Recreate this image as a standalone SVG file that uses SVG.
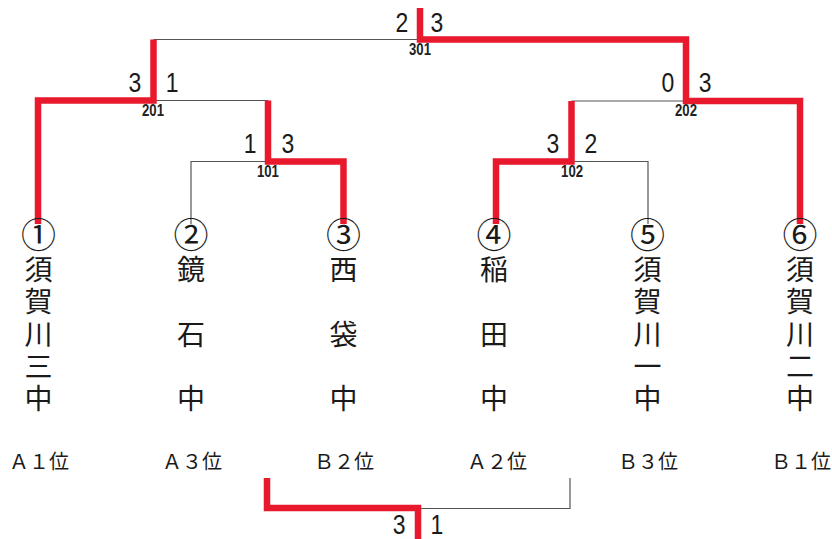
<svg xmlns="http://www.w3.org/2000/svg" width="832" height="539" viewBox="0 0 832 539">
<style>
.win{fill:none;stroke:#e8192c;stroke-width:6.5;stroke-linejoin:miter;stroke-linecap:butt}
.lose{fill:none;stroke:#555;stroke-width:1.2}
.sc{font-family:"Liberation Sans",sans-serif;font-size:28px;fill:#1a1a1a;text-anchor:middle}
.mid{font-family:"Liberation Sans",sans-serif;font-size:16px;font-weight:bold;fill:#222;text-anchor:middle}
.nm{font-family:"Noto Sans CJK JP","Noto Sans CJK SC",sans-serif;font-size:28px;fill:#1a1a1a;text-anchor:middle}
.cn{font-family:"Noto Sans CJK JP","Noto Sans CJK SC",sans-serif;font-size:35px;fill:#1a1a1a;text-anchor:middle}
.rk{font-family:"Noto Sans CJK JP","Noto Sans CJK SC",sans-serif;font-size:20px;fill:#1a1a1a;text-anchor:middle}
</style>
<rect width="832" height="539" fill="#ffffff"/>
<g id="connectors">
  <path class="lose" d="M153.5 39.5 H420"/>
  <path class="lose" d="M153.5 100.5 H268"/>
  <path class="lose" d="M268 161.5 H191 V224"/>
  <path class="lose" d="M686 101 H571.5"/>
  <path class="lose" d="M571.5 161.5 H648 V224"/>
  <path class="lose" d="M418 508.5 H570 V478"/>
  <path class="win" d="M420 8 V39.5 H686 V101 H800 V224"/>
  <path class="win" d="M153.5 39.5 V100.5 H38 V224"/>
  <path class="win" d="M268 100.5 V161.5 H343.5 V224"/>
  <path class="win" d="M571.5 101 V161.5 H496 V224"/>
  <path class="win" d="M267 478 V508 H418 V539"/>
</g>
<g id="match-301" transform="scale(0.82 1)">
  <text class="sc" x="490.2" y="32">2</text>
  <text class="sc" x="532.9" y="32">3</text>
  <text class="mid" x="512.2" y="55">301</text>
</g>
<g id="match-201" transform="scale(0.82 1)">
  <text class="sc" x="164.6" y="92">3</text>
  <text class="sc" x="209.8" y="92">1</text>
  <text class="mid" x="186.6" y="116">201</text>
</g>
<g id="match-202" transform="scale(0.82 1)">
  <text class="sc" x="814.6" y="92">0</text>
  <text class="sc" x="859.8" y="92">3</text>
  <text class="mid" x="836.6" y="116">202</text>
</g>
<g id="match-101" transform="scale(0.82 1)">
  <text class="sc" x="304.9" y="153">1</text>
  <text class="sc" x="351.2" y="153">3</text>
  <text class="mid" x="326.8" y="177">101</text>
</g>
<g id="match-102" transform="scale(0.82 1)">
  <text class="sc" x="674.4" y="153">3</text>
  <text class="sc" x="720.7" y="153">2</text>
  <text class="mid" x="697.6" y="177">102</text>
</g>
<g id="match-final" transform="scale(0.82 1)">
  <text class="sc" x="486.6" y="534">3</text>
  <text class="sc" x="532.9" y="534">1</text>
</g>
<g id="team-1">
  <text class="cn" x="38.5" y="248">①</text>
  <text class="nm" x="38.5" y="280">須</text>
  <text class="nm" x="38.5" y="312">賀</text>
  <text class="nm" x="38.5" y="345">川</text>
  <text class="nm" x="38.5" y="377">三</text>
  <text class="nm" x="38.5" y="409">中</text>
  <text class="rk" x="39" y="469">Ａ１位</text>
</g>
<g id="team-2">
  <text class="cn" x="191" y="248">②</text>
  <text class="nm" x="191" y="280">鏡</text>
  <text class="nm" x="191" y="345">石</text>
  <text class="nm" x="191" y="409">中</text>
  <text class="rk" x="192" y="469">Ａ３位</text>
</g>
<g id="team-3">
  <text class="cn" x="343.5" y="248">③</text>
  <text class="nm" x="343.5" y="280">西</text>
  <text class="nm" x="343.5" y="345">袋</text>
  <text class="nm" x="343.5" y="409">中</text>
  <text class="rk" x="344" y="469">Ｂ２位</text>
</g>
<g id="team-4">
  <text class="cn" x="494" y="248">④</text>
  <text class="nm" x="494" y="280">稲</text>
  <text class="nm" x="494" y="345">田</text>
  <text class="nm" x="494" y="409">中</text>
  <text class="rk" x="497" y="469">Ａ２位</text>
</g>
<g id="team-5">
  <text class="cn" x="647.5" y="248">⑤</text>
  <text class="nm" x="647.5" y="280">須</text>
  <text class="nm" x="647.5" y="312">賀</text>
  <text class="nm" x="647.5" y="345">川</text>
  <text class="nm" x="647.5" y="377">一</text>
  <text class="nm" x="647.5" y="409">中</text>
  <text class="rk" x="648" y="469">Ｂ３位</text>
</g>
<g id="team-6">
  <text class="cn" x="800" y="248">⑥</text>
  <text class="nm" x="800" y="280">須</text>
  <text class="nm" x="800" y="312">賀</text>
  <text class="nm" x="800" y="345">川</text>
  <text class="nm" x="800" y="377">二</text>
  <text class="nm" x="800" y="409">中</text>
  <text class="rk" x="801" y="469">Ｂ１位</text>
</g>
</svg>
